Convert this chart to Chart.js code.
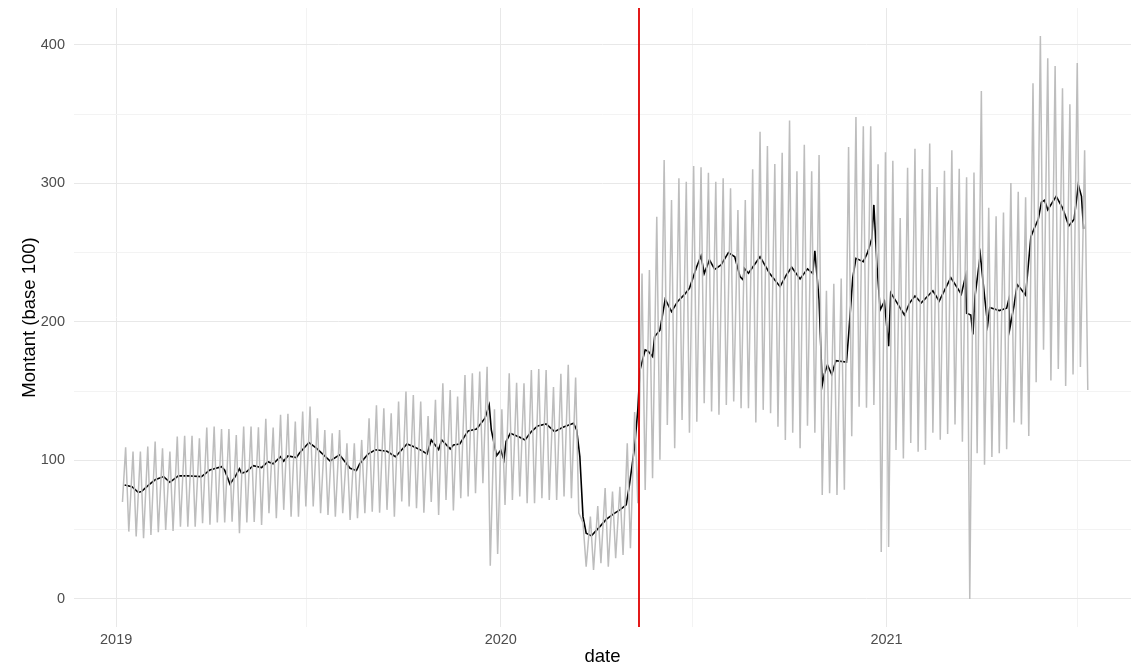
<!DOCTYPE html>
<html>
<head>
<meta charset="utf-8">
<script src="https://cdn.jsdelivr.net/npm/chart.js@4"></script>
<style>
  html, body { margin: 0; padding: 0; background: #fff; }
  #wrap { width: 1136px; height: 669px; }
</style>
</head>
<body>
<div id="wrap"><canvas id="chart" width="1136" height="669"></canvas></div>
<script>
// daily series (grey): first day, then one weekly high and one weekly low
const firstDate = '2019-01-07';
const firstValue = 70;
const weeklyHigh = [
  109.5, 106.4, 106.4, 110, 113.6, 108.8, 106.4, 117.2, 117.7, 117.7,
  116, 123.7, 124.4, 122.7, 122.7, 118.4, 124.4, 124.4, 124, 130,
  123.7, 132.9, 133.6, 128, 135.3, 138.9, 130.5, 122, 119.6, 122,
  112.4, 112.4, 114.8, 130.5, 139.8, 137.7, 134.1, 142.5, 149.7, 147.3,
  142.5, 132, 143.7, 155.7, 150.9, 146.1, 161.7, 163, 164.1, 167.7,
  137, 137, 163, 156, 155.7, 165.3, 166, 165.3, 153, 162.5,
  169, 159.8, 55, 59.4, 67, 80, 77.5, 81, 112.4, 135,
  235, 237.5, 276, 317, 288, 303.7, 301.3, 312.6, 311.7, 307.8,
  301.3, 303.7, 296.5, 280.9, 288.1, 310.2, 337.4, 327.1, 314.1, 322.2,
  345.4, 308.8, 328, 308.8, 320.5, 222.5, 227.5, 231.3, 326.3, 348,
  341.3, 341.3, 313.8, 322.5, 316.3, 275, 311.3, 325, 310.5, 328.8,
  297.5, 309.2, 323.9, 310.6, 304.5, 307.9, 366.8, 282.4, 276.3, 279,
  300.4, 294, 290, 372.4, 406.4, 390.4, 384.8, 368.8, 357.1, 387,
  323.9
];
const weeklyLow = [
  48.6, 45, 43.8, 46.2, 48.1, 49.8, 49, 52.2, 52.2, 52.2,
  54.6, 53.5, 55.1, 55.1, 55.8, 47.4, 55.1, 55.5, 53.4, 61.9,
  58.3, 64.3, 59.4, 59.4, 66.7, 66.7, 61.9, 60.6, 59.4, 61.9,
  57, 58.3, 61.9, 63, 62.3, 64.3, 59.4, 70.3, 66.7, 65.5,
  62.3, 70, 60.6, 71.5, 63.8, 72.7, 73.9, 76.3, 83.5, 24,
  32.5, 67.9, 71.5, 73.9, 69.1, 69.1, 72.7, 71.5, 71.5, 73.9,
  72.7, 62, 23.3, 20.9, 25.8, 23.3, 29.4, 31.8, 36.6, 69.1,
  78.7, 87.1, 100.4, 125.6, 108.8, 129.2, 120, 128, 141.3, 135.3,
  132.9, 140, 142.5, 137.7, 137.7, 127.3, 136.5, 134.1, 124.4, 114.8,
  120, 108.8, 125, 120, 75, 76.3, 75, 78.8, 117.5, 138.8,
  138, 140, 33.8, 37.5, 107.5, 101.3, 112.5, 106.3, 107.5, 120,
  114.9, 119, 126, 113.5, 0, 105.2, 96.9, 102.4, 105.2, 108,
  127.4, 126, 117.7, 156.4, 180, 157.8, 166.1, 153.7, 162, 167.5,
  150.9
];

// smoothed series (black): days since 2019-01-01 and value
const trendDay = [
  8, 15, 21, 24, 31, 37, 45, 51, 59, 67, 81, 89, 100, 103, 108, 113, 117, 119, 124, 130,
  138, 144, 149, 156, 159, 163, 171, 174, 183, 190, 203, 212, 222, 228, 231, 239, 246, 257, 265, 276,
  282, 290, 295, 299, 306, 309, 317, 320, 326, 334, 342, 350, 354, 356, 361, 365, 368, 370, 374, 383,
  388, 394, 400, 408, 416, 424, 434, 437, 440, 443, 446, 451, 459, 465, 472, 478, 484, 487, 492, 495,
  497, 502, 505, 509, 511, 516, 521, 527, 533, 539, 544, 551, 555, 558, 563, 568, 574, 581, 587, 592,
  595, 596, 600, 611, 620, 630, 636, 641, 649, 656, 661, 663, 667, 670, 672, 675, 679, 683, 693, 695,
  699, 702, 709, 713, 717, 719, 722, 725, 729, 733, 735, 740, 748, 753, 758, 764, 775, 781, 792, 802,
  806, 807, 811, 813, 815, 820, 824, 827, 829, 838, 845, 847, 848, 852, 855, 858, 863, 868, 871, 875,
  878, 881, 884, 892, 898, 904, 909, 913, 916, 918
];
const trendValue = [
  82.3, 81, 77, 77.5, 82.3, 86, 88.3, 84.2, 88.8, 88.9, 88.3, 93.1, 95.5, 93, 83, 88.3, 94, 90.7, 92, 96.2,
  94.8, 99.1, 97.6, 102.7, 99.5, 103.2, 102, 105.3, 112.9, 108.8, 99.6, 104, 94.3, 92.7, 97.5, 104.5, 107.7, 106.6, 102.7, 111.9,
  110, 107.1, 104.7, 114.8, 107.8, 114.8, 108.3, 111.2, 111.9, 121.3, 122.7, 130.5, 140, 122, 103.5, 107.4, 100.4, 113.6, 119.6, 116.7,
  114.8, 120.8, 124.9, 126.4, 120.8, 124, 126.8, 122, 102.7, 59.4, 47.4, 45.5, 52.2, 57.4, 61.4, 64.3, 67.9, 82, 110, 136.5,
  165, 179.8, 178.7, 175, 189.4, 194, 216.4, 207.4, 215, 219.5, 224.3, 240, 247.7, 235, 244.8, 238, 241.2, 250, 247.1, 232.7,
  230.3, 238.8, 235.2, 247.1, 235.2, 225.5, 233.9, 239.5, 231.1, 238.3, 235, 251.3, 215.9, 154.5, 162.5, 168.9, 162, 172, 171, 190,
  232, 245.9, 243.5, 250, 260, 284.5, 240, 208.8, 214.8, 182.5, 221, 215, 205, 213.8, 218.8, 213.8, 222.5, 215, 232, 220,
  233.1, 206.3, 204.9, 191, 218.7, 248.6, 218.7, 198, 210.4, 208.2, 209.9, 216, 195.2, 211.8, 227, 224.3, 219.3, 261.6, 267.2, 274.1,
  286.5, 287.9, 281, 290.7, 282.4, 269.4, 274.1, 299, 290.7, 267.2
];

const redLineDate = '2020-05-11';
const yearTicks = ['2019-01-01', '2020-01-01', '2021-01-01'];
const midYearTicks = ['2019-07-01', '2020-07-01', '2021-07-01'];
const yMajor = [0, 100, 200, 300, 400];
const yMinor = [50, 150, 250, 350];

const origin = Date.parse('2019-01-01');
function dayOf(iso) {
    return Math.round((Date.parse(iso) - origin) / 86400000);
}

// build the grey points
const start = dayOf(firstDate);
let greyPoints = [{x: start, y: firstValue}];
weeklyHigh.forEach(function(v, i) {
    greyPoints.push({x: start + 7 * i + 3, y: v});
    greyPoints.push({x: start + 7 * i + 6, y: weeklyLow[i]});
});
const trendPoints = trendDay.map((d, i) => ({x: d, y: trendValue[i]}));

const yearDays = yearTicks.map(dayOf);
const xTickValues = yearDays.concat(midYearTicks.map(dayOf)).sort((a, b) => a - b);
const yTickValues = yMajor.concat(yMinor).sort((a, b) => a - b);

const redLine = {
    id: 'redLine',
    afterDatasetsDraw(chart) {
        const xs = chart.scales.x;
        const area = chart.chartArea;
        const px = Math.round(xs.getPixelForValue(dayOf(redLineDate)));
        const ctx = chart.ctx;
        ctx.save();
        ctx.strokeStyle = '#e00000';
        ctx.lineWidth = 1.8;
        ctx.beginPath();
        ctx.moveTo(px, area.top);
        ctx.lineTo(px, area.bottom);
        ctx.stroke();
        ctx.restore();
    }
};

const tickFont = {family: 'Liberation Sans, Arial, sans-serif', size: 14.5};
const titleFont = {family: 'Liberation Sans, Arial, sans-serif', size: 18.5};

const ctx = document.getElementById('chart');
const myChart = new Chart(ctx, {
    type: 'line',
    data: {
        datasets: [{
            label: 'Montant',
            data: greyPoints,
            borderColor: '#bdbdbd',
            borderWidth: 1.5,
            pointRadius: 0,
            fill: false,
        },
        {
            label: 'Moyenne',
            data: trendPoints,
            borderColor: '#000000',
            borderWidth: 1.6,
            pointRadius: 0,
            fill: false,
        }]
    },
    options: {
        responsive: false,
        animation: false,
        devicePixelRatio: 1,
        layout: {padding: {top: 8, right: 5, left: 0, bottom: 0}},
        plugins: {legend: {display: false}, tooltip: {enabled: false}},
        scales: {
            x: {
                type: 'linear',
                min: -40,
                max: 963,
                afterBuildTicks(scale) {
                    scale.ticks = xTickValues.map(v => ({value: v}));
                },
                afterFit(scale) { scale.height = 42; },
                border: {display: false},
                grid: {
                    drawTicks: false,
                    lineWidth: 1,
                    color: c => yearDays.includes(c.tick.value) ? '#e8e8e8' : '#f3f3f3',
                },
                ticks: {
                    padding: 4,
                    maxRotation: 0,
                    autoSkip: false,
                    color: '#4d4d4d',
                    font: tickFont,
                    callback: v => {
                        const i = yearDays.indexOf(v);
                        return i >= 0 ? yearTicks[i].slice(0, 4) : '';
                    }
                },
                title: {display: true, text: 'date', color: '#000', font: titleFont, padding: {top: 0, bottom: 1}}
            },
            y: {
                type: 'linear',
                min: -20.3,
                max: 426.7,
                afterBuildTicks(scale) {
                    scale.ticks = yTickValues.map(v => ({value: v}));
                },
                afterFit(scale) {
                    scale.width = 74;
                    scale.paddingTop = 0;
                    scale.paddingBottom = 0;
                },
                border: {display: false},
                grid: {
                    drawTicks: false,
                    lineWidth: 1,
                    color: c => yMajor.includes(c.tick.value) ? '#e8e8e8' : '#f3f3f3',
                },
                ticks: {
                    padding: 9,
                    autoSkip: false,
                    color: '#4d4d4d',
                    font: tickFont,
                    callback: v => yMajor.includes(v) ? String(v) : ''
                },
                title: {display: true, text: 'Montant (base 100)', color: '#000', font: titleFont, padding: {top: 19, bottom: 0}}
            }
        }
    },
    plugins: [redLine]
});
</script>
</body>
</html>
